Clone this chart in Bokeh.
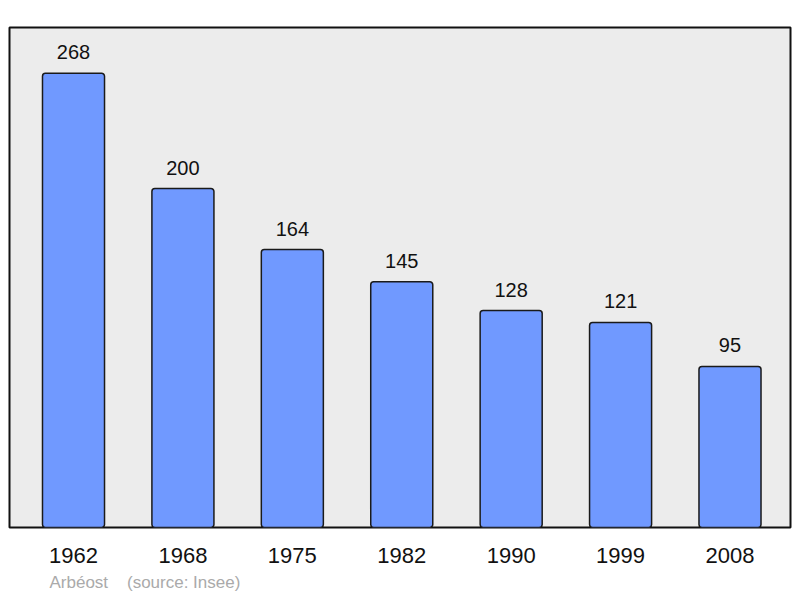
from bokeh.plotting import figure
from bokeh.models import Range1d, FixedTicker, Title, ColumnDataSource
from bokeh.core.properties import value
from bokeh.embed import file_html
from bokeh.resources import INLINE

years = ["1962", "1968", "1975", "1982", "1990", "1999", "2008"]
population = [268, 200, 164, 145, 128, 121, 95]
commune = "Arbéost"
source_note = "(source: Insee)"

idx = list(range(len(years)))
src = ColumnDataSource(dict(x=idx, top=population, label=[str(v) for v in population]))

FONT = "Liberation Sans"

p = figure(width=800, height=596, output_backend="svg", toolbar_location=None,
           x_range=Range1d(-0.585, 6.553), y_range=Range1d(0, 295),
           min_border_left=9, min_border_right=10, min_border_top=27, min_border_bottom=68)
p.background_fill_color = "#ececec"
p.border_fill_color = "white"
p.outline_line_color = "#111111"
p.outline_line_width = 2
p.grid.visible = False
p.yaxis.visible = False

p.vbar(x="x", top="top", bottom=0, width=0.567, source=src,
       fill_color="#7099ff", line_color="#1a1a1a", line_width=1.5, border_radius=3)

p.text(x="x", y="top", text="label", source=src, text_align="center",
       text_baseline="alphabetic", y_offset=-21, text_font=value(FONT),
       text_font_size="20px", text_color="#111111")

ax = p.xaxis[0]
ax.ticker = FixedTicker(ticks=idx)
ax.major_label_overrides = {i: y for i, y in zip(idx, years)}
ax.axis_line_color = None
ax.major_tick_line_color = None
ax.minor_tick_line_color = None
ax.major_label_standoff = 14
ax.major_label_text_font = FONT
ax.major_label_text_font_size = "22px"
ax.major_label_text_color = "#111111"

note = commune + "\u00a0" * 4 + source_note
p.add_layout(Title(text=note, align="left", offset=40, standoff=10,
                   text_font=FONT, text_font_size="17px", text_font_style="normal",
                   text_color="#aaaaaa"), "below")

open("out.html", "w").write(file_html(p, INLINE))
